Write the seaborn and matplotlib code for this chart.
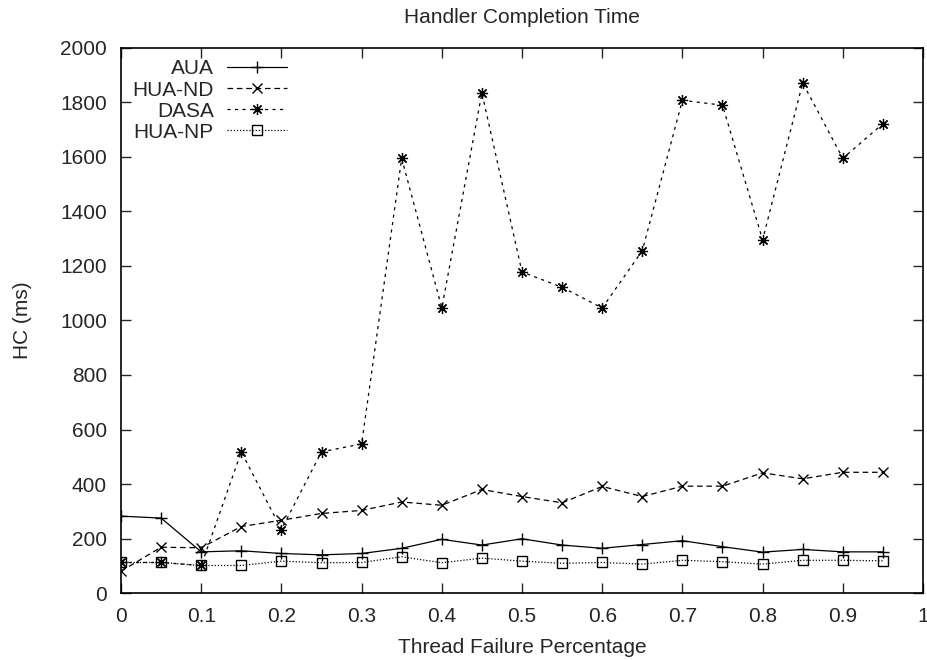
import numpy as np
import pandas as pd
import matplotlib
matplotlib.use('Agg')
import matplotlib.pyplot as plt
import seaborn as sns

# failure percentage on x axis
failure = [0.0, 0.05, 0.1, 0.15, 0.2, 0.25, 0.3, 0.35, 0.4, 0.45,
           0.5, 0.55, 0.6, 0.65, 0.7, 0.75, 0.8, 0.85, 0.9, 0.95]

aua = [282, 275, 151, 155, 145, 140, 145, 164, 197, 176,
       199, 176, 164, 178, 192, 170, 150, 160, 151, 151]
hua_nd = [80, 168, 166, 244, 267, 292, 303, 334, 322, 380,
          354, 331, 391, 354, 392, 392, 441, 419, 443, 443]
dasa = [112, 112, 101, 518, 233, 518, 547, 1595, 1046, 1835,
        1178, 1122, 1046, 1256, 1808, 1790, 1296, 1872, 1595, 1722]
hua_np = [112, 112, 101, 101, 117, 111, 112, 133, 111, 128,
          117, 109, 112, 106, 120, 115, 106, 120, 120, 118]

names = ['AUA', 'HUA-ND', 'DASA', 'HUA-NP']
series = [aua, hua_nd, dasa, hua_np]

sns.set_style('ticks')
plt.rcParams['font.family'] = ['Liberation Sans', 'DejaVu Sans']
plt.rcParams['font.size'] = 15

fig = plt.figure(figsize=(9.28, 6.6), dpi=100)
ax = fig.add_axes([0.1304, 0.1015, 0.8642, 0.8258])

styles = {
    'AUA': dict(linestyle='-', marker='+', markersize=9, markeredgewidth=1.0),
    'HUA-ND': dict(linestyle=(0, (4.5, 3)), marker='x', markersize=7, markeredgewidth=1.0),
    'DASA': dict(linestyle=(0, (2.5, 3.5)), marker=(8, 2, 0), markersize=8, markeredgewidth=0.9),
    'HUA-NP': dict(linestyle=(0, (1, 1.5)), marker='s', markersize=7, markeredgewidth=1.0),
}

for name, vals in zip(names, series):
    df = pd.DataFrame({'x': failure, 'y': vals})
    sns.lineplot(data=df, x='x', y='y', ax=ax, color='black', linewidth=0.9,
                 markeredgecolor='black', markerfacecolor='none', label=name,
                 **styles[name])

ax.set_xlim(0, 1)
ax.set_ylim(0, 2000)
ax.set_xticks(np.arange(0, 1.01, 0.1))
ax.set_xticklabels(['0', '0.1', '0.2', '0.3', '0.4', '0.5', '0.6', '0.7', '0.8', '0.9', '1'])
ax.set_yticks(np.arange(0, 2001, 200))
ax.tick_params(direction='in', top=True, right=True, length=7, width=1, labelsize=15)
ax.tick_params(axis='x', pad=10)
ax.tick_params(axis='y', pad=10)
for s in ax.spines.values():
    s.set_linewidth(1.2)
    s.set_color('black')

ax.set_title('Handler Completion Time', fontsize=15, pad=18)
ax.set_xlabel('Thread Failure Percentage', fontsize=15, labelpad=9)
ax.set_ylabel('HC (ms)', fontsize=15, labelpad=20)

leg = ax.legend(loc='upper left', frameon=False, markerfirst=False,
                handlelength=2.85, handletextpad=0.65, labelspacing=0.1,
                borderaxespad=0.1, borderpad=0.45, fontsize=15)
# right-align the labels like gnuplot does
leg._legend_box.get_children()[1].get_children()[0].align = 'right'

fig.savefig('out.png', dpi=100)
